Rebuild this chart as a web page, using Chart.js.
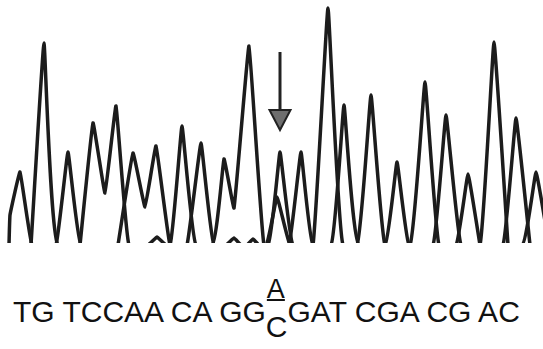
<!DOCTYPE html>
<html>
<head>
<meta charset="utf-8">
<script src="https://cdn.jsdelivr.net/npm/chart.js@4/dist/chart.umd.min.js"></script>
<style>
  html, body { margin: 0; padding: 0; background: #fff; }
  #page { position: relative; width: 543px; height: 349px; overflow: hidden; }
  #plot { position: absolute; left: 0; top: 0; width: 543px; height: 243px; }
  #seq {
    position: absolute; left: 13px; top: 297px;
    font: 30px 'Liberation Sans', Arial, sans-serif; line-height: 30px;
    white-space: pre; color: #111;
  }
  .mix { position: relative; display: inline-block; }
  .ref { position: relative; top: 15px; }
  .alt { position: absolute; left: 1px; top: -23px; font-size: 27px; text-decoration: underline; text-decoration-thickness: 2px; }
</style>
</head>
<body>
<div id="page">
  <div id="plot"><canvas id="chart"></canvas></div>
  <div id="seq">TG TCCAA CA GG<span class="mix"><span class="alt">A</span><span class="ref">C</span></span>GAT CGA CG AC</div>
</div>
<script>
// trace points: [scan position, signal]
const traceT = [[9, 0], [10, 30], [20, 73], [32, 0], [56, 0], [68, 93], [81, 0],
  [148, 0], [157, 8], [166, 0], [226, 0], [234, 7], [241, 0], [247, 0], [253, 6], [259, 0],
  [331, 0], [344, 140], [359, 0], [522, 0], [536, 73], [549, 0]];
const traceG = [[31, 0], [44, 202], [58, 0], [212, 0], [224, 86], [234, 37], [249, 199], [264, 0],
  [289, 0], [301, 93], [313, 0], [385, 0], [397, 83], [409, 0], [456, 0], [468, 71], [480, 0]];
const traceA = [[118, 0], [133, 92], [145, 38], [156, 99], [170, 0], [187, 0], [201, 102], [214, 0],
  [266, 0], [277, 48], [290, 0], [313, 0], [328, 237], [343, 0], [410, 0], [425, 163], [439, 0],
  [480, 0], [494, 203], [508, 0]];
const traceC = [[80, 0], [93, 122], [105, 52], [116, 139], [129, 0], [170, 0], [182, 119], [196, 0],
  [268, 0], [280, 93], [293, 0], [357, 0], [371, 150], [385, 0], [433, 0], [446, 130], [461, 0],
  [503, 0], [516, 127], [530, 0]];

// mutation marker (A/C heterozygous position)
const arrowAt = 280;
const arrowTop = 193, arrowHeadBase = 135, arrowTip = 115;

function toPoints(trace) {
  return trace.map(p => ({ x: p[0], y: p[1] }));
}

const arrowPlugin = {
  id: 'arrow',
  afterDatasetsDraw(chart) {
    const ctx = chart.ctx;
    const xs = chart.scales.x, ys = chart.scales.y;
    const x = xs.getPixelForValue(arrowAt);
    const half = xs.getPixelForValue(arrowAt + 10.5) - x;
    ctx.save();
    ctx.strokeStyle = '#222';
    ctx.lineWidth = 3;
    ctx.beginPath();
    ctx.moveTo(x, ys.getPixelForValue(arrowTop));
    ctx.lineTo(x, ys.getPixelForValue(arrowHeadBase));
    ctx.stroke();
    ctx.beginPath();
    ctx.moveTo(x - half, ys.getPixelForValue(arrowHeadBase));
    ctx.lineTo(x + half, ys.getPixelForValue(arrowHeadBase));
    ctx.lineTo(x, ys.getPixelForValue(arrowTip));
    ctx.closePath();
    ctx.fillStyle = '#6e6e6e';
    ctx.fill();
    ctx.lineWidth = 2;
    ctx.stroke();
    ctx.restore();
  }
};

const traces = [traceT, traceG, traceA, traceC];

new Chart(document.getElementById('chart'), {
  type: 'line',
  data: {
    datasets: traces.map(t => ({
      data: toPoints(t),
      borderColor: '#1c1c1c',
      borderWidth: 3.5,
      borderJoinStyle: 'round',
      pointRadius: 0,
      tension: 0.08,
      fill: false,
      clip: 0
    }))
  },
  options: {
    responsive: true,
    maintainAspectRatio: false,
    animation: false,
    layout: { padding: 0 },
    plugins: { legend: { display: false }, tooltip: { enabled: false } },
    scales: {
      x: { type: 'linear', min: 0, max: 543, display: false },
      y: { min: 2, max: 245, display: false }
    }
  },
  plugins: [arrowPlugin]
});
</script>
</body>
</html>
